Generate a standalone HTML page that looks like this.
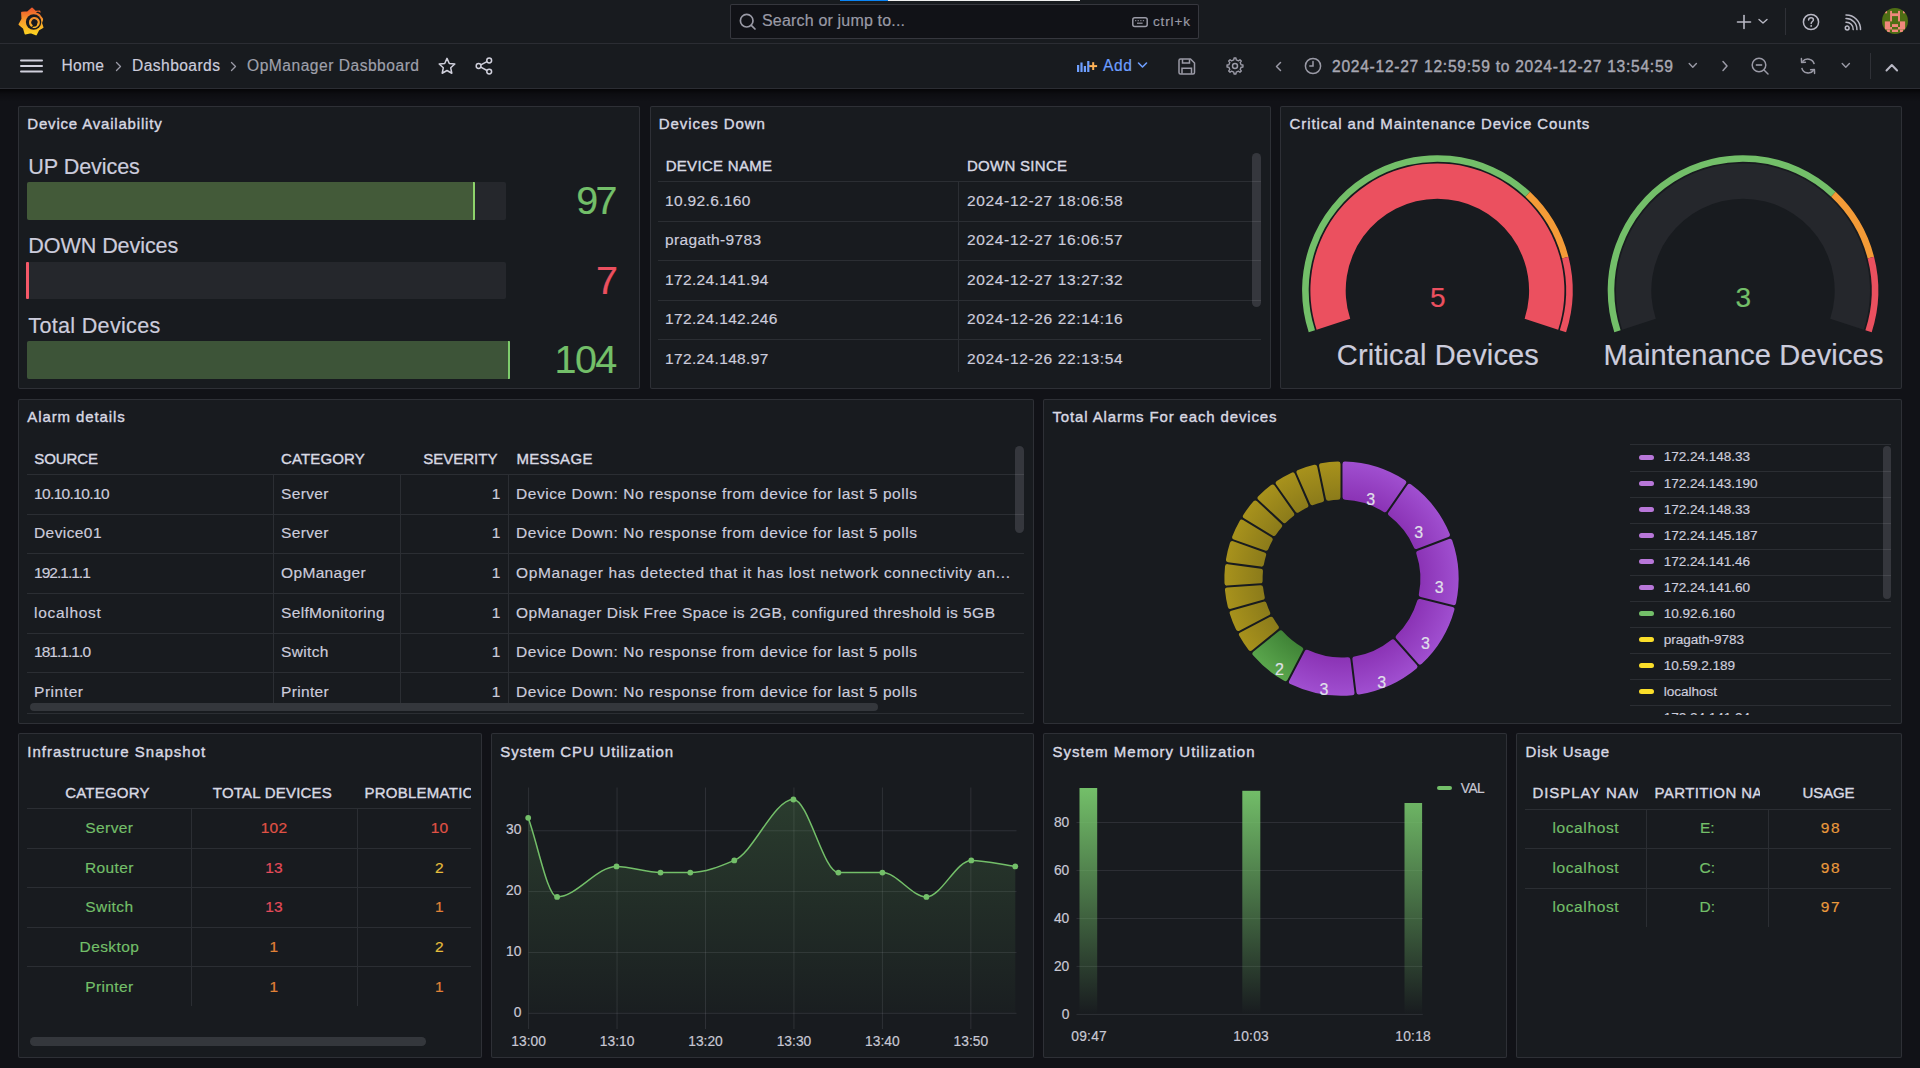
<!DOCTYPE html>
<html><head><meta charset="utf-8"><style>
html,body{margin:0;padding:0;}
body{width:1920px;height:1068px;overflow:hidden;position:relative;background:#111217;font-family:"Liberation Sans",sans-serif;}
.t{position:absolute;white-space:nowrap;-webkit-text-stroke:0.18px currentColor;}
svg{display:block;}
</style></head><body>
<div style="position:absolute;left:0.00px;top:0.00px;width:1920.00px;height:43.00px;background:#181b1f;"></div><div style="position:absolute;left:0.00px;top:43.00px;width:1920.00px;height:1.00px;background:#2b2d33;"></div><div style="position:absolute;left:0.00px;top:44.00px;width:1920.00px;height:44.00px;background:#181b1f;"></div><div style="position:absolute;left:0.00px;top:88.00px;width:1920.00px;height:1.00px;background:#2b2d33;"></div><div style="position:absolute;left:840.00px;top:0.00px;width:48.00px;height:1.20px;background:#0a84f5;"></div><div style="position:absolute;left:888.00px;top:0.00px;width:192.00px;height:1.20px;background:#f0f0f0;"></div><div style="position:absolute;left:730.00px;top:4.00px;width:469.00px;height:35.00px;background:#111217;box-sizing:border-box;border:1px solid rgba(204,204,220,0.2);border-radius:2px;"></div><svg style="position:absolute;left:739.00px;top:13.00px;overflow:visible;" width="18" height="18" viewBox="0 0 18 18"><circle cx="7.7" cy="7.7" r="6.3" fill="none" stroke="#9a9aa6" stroke-width="1.7"/><line x1="12.3" y1="12.3" x2="16" y2="16" stroke="#9a9aa6" stroke-width="1.7" stroke-linecap="round"/></svg><div class="t" style="left:762.00px;top:13.45px;font-size:16px;line-height:16px;color:#9a9aa6;letter-spacing:0.178px;">Search or jump to...</div><svg style="position:absolute;left:1132.00px;top:17.00px;overflow:visible;" width="16" height="10" viewBox="0 0 16 10"><rect x="0.8" y="0.8" width="14.4" height="8.6" rx="2" fill="none" stroke="#9a9aa6" stroke-width="1.5"/><rect x="3" y="3.2" width="1.3" height="1" fill="#9a9aa6"/><rect x="5.6" y="3.2" width="1.3" height="1" fill="#9a9aa6"/><rect x="8.2" y="3.2" width="1.3" height="1" fill="#9a9aa6"/><rect x="10.8" y="3.2" width="1.3" height="1" fill="#9a9aa6"/><rect x="5" y="5.6" width="5.6" height="1.2" fill="#9a9aa6"/></svg><div class="t" style="left:1153.00px;top:14.57px;font-size:13.5px;line-height:13.5px;color:#9a9aa6;letter-spacing:0.874px;">ctrl+k</div><svg style="position:absolute;left:1736.00px;top:14.00px;overflow:visible;" width="16" height="16" viewBox="0 0 16 16"><line x1="8" y1="1.5" x2="8" y2="14.5" stroke="#b8b8c4" stroke-width="1.6" stroke-linecap="round"/><line x1="1.5" y1="8" x2="14.5" y2="8" stroke="#b8b8c4" stroke-width="1.6" stroke-linecap="round"/></svg><svg style="position:absolute;left:1758.00px;top:18.00px;overflow:visible;" width="10" height="7" viewBox="0 0 10 7"><polyline points="1,1.5 5,5 9,1.5" fill="none" stroke="#b8b8c4" stroke-width="1.4" stroke-linecap="round" stroke-linejoin="round"/></svg><div style="position:absolute;left:1785.00px;top:8.00px;width:1.00px;height:27.00px;background:#2f3137;"></div><svg style="position:absolute;left:1802.00px;top:13.00px;overflow:visible;" width="18" height="18" viewBox="0 0 18 18"><circle cx="9" cy="9" r="7.6" fill="none" stroke="#b8b8c4" stroke-width="1.5"/><path d="M6.6,7.1 C6.6,5.5 7.7,4.8 9,4.8 C10.4,4.8 11.4,5.7 11.4,6.9 C11.4,8.5 9.2,8.6 9.2,10.4" fill="none" stroke="#b8b8c4" stroke-width="1.5" stroke-linecap="round"/><circle cx="9.2" cy="12.9" r="0.95" fill="#b8b8c4"/></svg><svg style="position:absolute;left:1844.00px;top:14.00px;overflow:visible;" width="18" height="18" viewBox="0 0 18 18"><circle cx="3.2" cy="14" r="1.9" fill="none" stroke="#b8b8c4" stroke-width="1.5"/><path d="M2,8.2 A7,7 0 0 1 9.2,15.6" fill="none" stroke="#b8b8c4" stroke-width="1.5" stroke-linecap="round"/><path d="M2,4.6 A10.6,10.6 0 0 1 12.9,15.6" fill="none" stroke="#b8b8c4" stroke-width="1.5" stroke-linecap="round"/><path d="M2,1 A14.3,14.3 0 0 1 16.5,15.6" fill="none" stroke="#b8b8c4" stroke-width="1.5" stroke-linecap="round"/></svg><svg style="position:absolute;left:1882.00px;top:8.00px;overflow:visible;" width="26" height="26" viewBox="0 0 26 26"><defs><clipPath id="avc"><circle cx="13" cy="13" r="13"/></clipPath></defs><g clip-path="url(#avc)"><rect width="26" height="26" fill="#4e6e14"/><rect x="2.85" y="2.90" width="2.23" height="2.40" fill="#f0887c"/><rect x="21.00" y="2.90" width="2.10" height="2.40" fill="#f0887c"/><rect x="8.10" y="2.90" width="1.90" height="10.50" fill="#f0887c"/><rect x="16.00" y="2.90" width="2.00" height="10.50" fill="#f0887c"/><rect x="10.00" y="5.30" width="6.00" height="2.80" fill="#f0887c"/><rect x="2.85" y="13.40" width="5.25" height="8.10" fill="#f0887c"/><rect x="8.10" y="19.00" width="1.90" height="2.50" fill="#f0887c"/><rect x="4.90" y="21.50" width="3.00" height="2.50" fill="#f0887c"/><rect x="18.00" y="13.40" width="5.10" height="8.10" fill="#f0887c"/><rect x="16.00" y="19.00" width="2.00" height="2.50" fill="#f0887c"/><rect x="18.00" y="21.50" width="3.00" height="2.50" fill="#f0887c"/><rect x="10.00" y="16.10" width="6.00" height="2.90" fill="#f0887c"/><rect x="10.00" y="21.50" width="6.00" height="2.50" fill="#f0887c"/></g></svg><svg style="position:absolute;left:14.00px;top:4.00px;overflow:visible;" width="34" height="36" viewBox="0 0 34 36"><defs><linearGradient id="glg" x1="0" y1="30" x2="0" y2="5" gradientUnits="userSpaceOnUse"><stop offset="0" stop-color="#fcd221"/><stop offset="0.55" stop-color="#f79a2c"/><stop offset="1" stop-color="#ee5b2c"/></linearGradient></defs>
<polygon points="18.00,4.30 21.35,7.52 25.60,7.20 25.91,12.04 28.60,14.80 27.24,19.00 28.70,23.40 24.41,25.80 22.00,30.60 16.92,28.46 11.30,29.60 9.74,24.08 5.30,20.40 8.28,15.05 7.90,8.60 13.74,8.12" fill="url(#glg)" stroke="url(#glg)" stroke-width="1.6" stroke-linejoin="round"/>
<circle cx="19.6" cy="18.0" r="7.7" fill="#181b1f"/>
<path d="M29.5,16.2 Q28.4,10.2 21.8,8.6 L24,7.6 Q30,9.5 30.5,16 Z" fill="#181b1f"/>
<path d="M17.6,21.6 A4.3,4.3 0 1 1 24.2,20.4" fill="none" stroke="url(#glg)" stroke-width="2.3" stroke-linecap="round"/>
<path d="M24.2,20.4 Q23,23.6 19.2,23.4" fill="none" stroke="url(#glg)" stroke-width="1.4" stroke-linecap="round"/></svg><svg style="position:absolute;left:20.00px;top:59.00px;overflow:visible;" width="23" height="14" viewBox="0 0 23 14"><line x1="1" y1="1.4" x2="22" y2="1.4" stroke="#d0d0dc" stroke-width="2" stroke-linecap="round"/><line x1="1" y1="7" x2="22" y2="7" stroke="#d0d0dc" stroke-width="2" stroke-linecap="round"/><line x1="1" y1="12.6" x2="22" y2="12.6" stroke="#d0d0dc" stroke-width="2" stroke-linecap="round"/></svg><div class="t" style="left:61.50px;top:57.99px;font-size:15.6px;line-height:15.6px;color:#ccccdc;letter-spacing:0.301px;">Home</div><svg style="position:absolute;left:115.00px;top:61.00px;overflow:visible;" width="8" height="11" viewBox="0 0 8 11"><polyline points="1.5,1.5 5.5,5.5 1.5,9.5" fill="none" stroke="#9a9aa6" stroke-width="1.3" stroke-linecap="round" stroke-linejoin="round"/></svg><div class="t" style="left:132.00px;top:57.99px;font-size:15.6px;line-height:15.6px;color:#ccccdc;letter-spacing:0.435px;">Dashboards</div><svg style="position:absolute;left:230.00px;top:61.00px;overflow:visible;" width="8" height="11" viewBox="0 0 8 11"><polyline points="1.5,1.5 5.5,5.5 1.5,9.5" fill="none" stroke="#9a9aa6" stroke-width="1.3" stroke-linecap="round" stroke-linejoin="round"/></svg><div class="t" style="left:247.00px;top:57.99px;font-size:15.6px;line-height:15.6px;color:#9fa0ab;letter-spacing:0.502px;">OpManager Dasbboard</div><svg style="position:absolute;left:438.00px;top:57.00px;overflow:visible;" width="18" height="18" viewBox="0 0 18 18"><polygon points="9.00,1.40 11.29,6.44 16.80,7.07 12.71,10.81 13.82,16.23 9.00,13.50 4.18,16.23 5.29,10.81 1.20,7.07 6.71,6.44" fill="none" stroke="#d0d0dc" stroke-width="1.5" stroke-linejoin="round"/></svg><svg style="position:absolute;left:475.00px;top:57.00px;overflow:visible;" width="18" height="18" viewBox="0 0 18 18"><circle cx="14.2" cy="3.5" r="2.4" fill="none" stroke="#d0d0dc" stroke-width="1.5"/><circle cx="3.6" cy="9" r="2.4" fill="none" stroke="#d0d0dc" stroke-width="1.5"/><circle cx="14.2" cy="14.6" r="2.4" fill="none" stroke="#d0d0dc" stroke-width="1.5"/><line x1="5.8" y1="7.9" x2="12" y2="4.6" stroke="#d0d0dc" stroke-width="1.5"/><line x1="5.8" y1="10.1" x2="12" y2="13.5" stroke="#d0d0dc" stroke-width="1.5"/></svg><svg style="position:absolute;left:1076.00px;top:59.00px;overflow:visible;" width="22" height="14" viewBox="0 0 22 14"><rect x="1" y="6" width="2.2" height="7" fill="#6e9fff"/><rect x="4.4" y="3.5" width="2.2" height="9.5" fill="#6e9fff"/><rect x="7.8" y="7" width="2.2" height="6" fill="#6e9fff"/><rect x="11.2" y="2" width="2.2" height="11" fill="#6e9fff"/><line x1="17.2" y1="3.2" x2="17.2" y2="11" stroke="#ffb357" stroke-width="2"/><line x1="13.3" y1="7.1" x2="21.1" y2="7.1" stroke="#ffb357" stroke-width="2"/></svg><div class="t" style="left:1103.00px;top:57.99px;font-size:15.6px;line-height:15.6px;color:#6e9fff;letter-spacing:0.627px;">Add</div><svg style="position:absolute;left:1137.00px;top:61.00px;overflow:visible;" width="11" height="9" viewBox="0 0 11 9"><polyline points="1.5,2 5.5,6 9.5,2" fill="none" stroke="#6e9fff" stroke-width="1.6" stroke-linecap="round" stroke-linejoin="round"/></svg><svg style="position:absolute;left:1178.00px;top:58.00px;overflow:visible;" width="18" height="17" viewBox="0 0 18 17"><path d="M2.5,1 H12.5 L16.5,5 V14.5 A1.5,1.5 0 0 1 15,16 H2.5 A1.5,1.5 0 0 1 1,14.5 V2.5 A1.5,1.5 0 0 1 2.5,1 Z" fill="none" stroke="#9a9aa6" stroke-width="1.5" stroke-linejoin="round"/><path d="M4.5,1.2 V5 H11.5 V1.2" fill="none" stroke="#9a9aa6" stroke-width="1.5"/><path d="M4,15.8 V10.2 H13.5 V15.8" fill="none" stroke="#9a9aa6" stroke-width="1.5"/></svg><svg style="position:absolute;left:1226.00px;top:57.00px;overflow:visible;" width="18" height="18" viewBox="0 0 18 18"><path d="M15.08,7.77 L16.94,8.04 L16.94,9.96 L15.08,10.23 L14.17,12.43 L15.29,13.94 L13.94,15.29 L12.43,14.17 L10.23,15.08 L9.96,16.94 L8.04,16.94 L7.77,15.08 L5.57,14.17 L4.06,15.29 L2.71,13.94 L3.83,12.43 L2.92,10.23 L1.06,9.96 L1.06,8.04 L2.92,7.77 L3.83,5.57 L2.71,4.06 L4.06,2.71 L5.57,3.83 L7.77,2.92 L8.04,1.06 L9.96,1.06 L10.23,2.92 L12.43,3.83 L13.94,2.71 L15.29,4.06 L14.17,5.57 Z" fill="none" stroke="#9a9aa6" stroke-width="1.4" stroke-linejoin="round"/><circle cx="9" cy="9" r="2.5" fill="none" stroke="#9a9aa6" stroke-width="1.5"/></svg><svg style="position:absolute;left:1274.00px;top:61.00px;overflow:visible;" width="9" height="11" viewBox="0 0 9 11"><polyline points="6.5,1.5 2.5,5.5 6.5,9.5" fill="none" stroke="#9a9aa6" stroke-width="1.5" stroke-linecap="round" stroke-linejoin="round"/></svg><svg style="position:absolute;left:1304.00px;top:57.00px;overflow:visible;" width="18" height="18" viewBox="0 0 18 18"><circle cx="9" cy="9" r="7.6" fill="none" stroke="#9a9aa6" stroke-width="1.5"/><polyline points="9,4.5 9,9 5.8,9" fill="none" stroke="#9a9aa6" stroke-width="1.5" stroke-linecap="round"/></svg><div class="t" style="left:1332.00px;top:58.79px;font-size:15.6px;line-height:15.6px;color:#a8a8b3;-webkit-text-stroke:0.38px currentColor;letter-spacing:0.725px;">2024-12-27 12:59:59 to 2024-12-27 13:54:59</div><svg style="position:absolute;left:1688.00px;top:62.00px;overflow:visible;" width="10" height="8" viewBox="0 0 10 8"><polyline points="1.2,1.5 4.8,5.2 8.4,1.5" fill="none" stroke="#9a9aa6" stroke-width="1.4" stroke-linecap="round" stroke-linejoin="round"/></svg><svg style="position:absolute;left:1721.00px;top:60.00px;overflow:visible;" width="9" height="12" viewBox="0 0 9 12"><polyline points="2,1.5 6,6 2,10.5" fill="none" stroke="#9a9aa6" stroke-width="1.5" stroke-linecap="round" stroke-linejoin="round"/></svg><svg style="position:absolute;left:1751.00px;top:57.00px;overflow:visible;" width="19" height="19" viewBox="0 0 19 19"><circle cx="8" cy="8" r="6.8" fill="none" stroke="#9a9aa6" stroke-width="1.5"/><line x1="13" y1="13" x2="17" y2="17" stroke="#9a9aa6" stroke-width="1.5" stroke-linecap="round"/><line x1="4.8" y1="8" x2="11.2" y2="8" stroke="#9a9aa6" stroke-width="1.6"/></svg><svg style="position:absolute;left:1799.00px;top:57.00px;overflow:visible;" width="18" height="18" viewBox="0 0 18 18"><path d="M15.2,7.2 A6.6,6.6 0 0 0 3.4,4.8" fill="none" stroke="#9a9aa6" stroke-width="1.5"/><polyline points="2.4,1.6 2.6,5.4 6.4,5.2" fill="none" stroke="#9a9aa6" stroke-width="1.5" stroke-linecap="round" stroke-linejoin="round"/><path d="M2.8,10.8 A6.6,6.6 0 0 0 14.6,13.2" fill="none" stroke="#9a9aa6" stroke-width="1.5"/><polyline points="15.6,16.4 15.4,12.6 11.6,12.8" fill="none" stroke="#9a9aa6" stroke-width="1.5" stroke-linecap="round" stroke-linejoin="round"/></svg><svg style="position:absolute;left:1841.00px;top:62.00px;overflow:visible;" width="10" height="8" viewBox="0 0 10 8"><polyline points="1.2,1.5 4.8,5.2 8.4,1.5" fill="none" stroke="#9a9aa6" stroke-width="1.4" stroke-linecap="round" stroke-linejoin="round"/></svg><div style="position:absolute;left:1869.50px;top:53.00px;width:1.00px;height:26.00px;background:#2f3137;"></div><svg style="position:absolute;left:1885.00px;top:63.00px;overflow:visible;" width="14" height="9" viewBox="0 0 14 9"><polyline points="1.5,7.5 6.8,2 12.1,7.5" fill="none" stroke="#b8b8c4" stroke-width="2" stroke-linecap="round" stroke-linejoin="round"/></svg><div style="position:absolute;left:0.00px;top:89.00px;width:1920.00px;height:13.00px;background:linear-gradient(rgba(0,0,0,0.7), rgba(0,0,0,0.25) 40%, rgba(0,0,0,0));"></div><div style="position:absolute;left:18.00px;top:106.30px;width:622.00px;height:282.70px;background:#181b1f;box-sizing:border-box;border:1px solid rgba(204,204,220,0.12);border-radius:2px;"></div><div class="t" style="left:27.30px;top:116.40px;font-size:15px;line-height:15px;color:#d8d9e3;-webkit-text-stroke:0.38px currentColor;letter-spacing:0.811px;">Device Availability</div><div style="position:absolute;left:649.50px;top:106.30px;width:621.50px;height:282.70px;background:#181b1f;box-sizing:border-box;border:1px solid rgba(204,204,220,0.12);border-radius:2px;"></div><div class="t" style="left:658.80px;top:116.40px;font-size:15px;line-height:15px;color:#d8d9e3;-webkit-text-stroke:0.38px currentColor;letter-spacing:0.921px;">Devices Down</div><div style="position:absolute;left:1280.30px;top:106.30px;width:622.00px;height:282.70px;background:#181b1f;box-sizing:border-box;border:1px solid rgba(204,204,220,0.12);border-radius:2px;"></div><div class="t" style="left:1289.60px;top:116.40px;font-size:15px;line-height:15px;color:#d8d9e3;-webkit-text-stroke:0.38px currentColor;letter-spacing:0.887px;">Critical and Maintenance Device Counts</div><div style="position:absolute;left:18.00px;top:399.00px;width:1016.00px;height:324.80px;background:#181b1f;box-sizing:border-box;border:1px solid rgba(204,204,220,0.12);border-radius:2px;"></div><div class="t" style="left:27.30px;top:409.10px;font-size:15px;line-height:15px;color:#d8d9e3;-webkit-text-stroke:0.38px currentColor;letter-spacing:0.892px;">Alarm details</div><div style="position:absolute;left:1043.20px;top:399.00px;width:858.80px;height:324.80px;background:#181b1f;box-sizing:border-box;border:1px solid rgba(204,204,220,0.12);border-radius:2px;"></div><div class="t" style="left:1052.50px;top:409.10px;font-size:15px;line-height:15px;color:#d8d9e3;-webkit-text-stroke:0.38px currentColor;letter-spacing:0.853px;">Total Alarms For each devices</div><div style="position:absolute;left:18.00px;top:733.40px;width:464.00px;height:324.60px;background:#181b1f;box-sizing:border-box;border:1px solid rgba(204,204,220,0.12);border-radius:2px;"></div><div class="t" style="left:27.30px;top:743.50px;font-size:15px;line-height:15px;color:#d8d9e3;-webkit-text-stroke:0.38px currentColor;letter-spacing:0.999px;">Infrastructure Snapshot</div><div style="position:absolute;left:491.00px;top:733.40px;width:543.00px;height:324.60px;background:#181b1f;box-sizing:border-box;border:1px solid rgba(204,204,220,0.12);border-radius:2px;"></div><div class="t" style="left:500.30px;top:743.50px;font-size:15px;line-height:15px;color:#d8d9e3;-webkit-text-stroke:0.38px currentColor;letter-spacing:0.841px;">System CPU Utilization</div><div style="position:absolute;left:1043.20px;top:733.40px;width:463.80px;height:324.60px;background:#181b1f;box-sizing:border-box;border:1px solid rgba(204,204,220,0.12);border-radius:2px;"></div><div class="t" style="left:1052.50px;top:743.50px;font-size:15px;line-height:15px;color:#d8d9e3;-webkit-text-stroke:0.38px currentColor;letter-spacing:1.019px;">System Memory Utilization</div><div style="position:absolute;left:1516.30px;top:733.40px;width:386.00px;height:324.60px;background:#181b1f;box-sizing:border-box;border:1px solid rgba(204,204,220,0.12);border-radius:2px;"></div><div class="t" style="left:1525.60px;top:743.50px;font-size:15px;line-height:15px;color:#d8d9e3;-webkit-text-stroke:0.38px currentColor;letter-spacing:0.756px;">Disk Usage</div><div class="t" style="left:28.30px;top:155.91px;font-size:21.6px;line-height:21.6px;color:#ccccdc;letter-spacing:-0.089px;">UP Devices</div><div style="position:absolute;left:27.00px;top:182.00px;width:479.00px;height:37.80px;background:rgba(204,204,220,0.075);border-radius:2px;"></div><div style="position:absolute;left:27.00px;top:182.00px;width:448.00px;height:37.80px;background:#435a39;border-radius:2px 0 0 2px;"></div><div style="position:absolute;left:472.80px;top:182.00px;width:2.20px;height:37.80px;background:#8ed36b;border-radius:0 1px 1px 0;"></div><div class="t" style="left:576.20px;top:181.06px;font-size:39.5px;line-height:39.5px;color:#73BF69;letter-spacing:-2.636px;">97</div><div class="t" style="left:28.30px;top:235.41px;font-size:21.6px;line-height:21.6px;color:#ccccdc;letter-spacing:-0.106px;">DOWN Devices</div><div style="position:absolute;left:27.00px;top:261.80px;width:479.00px;height:37.40px;background:rgba(204,204,220,0.075);border-radius:2px;"></div><div style="position:absolute;left:26.20px;top:261.80px;width:2.80px;height:37.40px;background:#f55868;border-radius:1px;"></div><div class="t" style="left:596.03px;top:260.56px;font-size:39.5px;line-height:39.5px;color:#EB505F;">7</div><div class="t" style="left:28.30px;top:314.91px;font-size:21.6px;line-height:21.6px;color:#ccccdc;letter-spacing:0.299px;">Total Devices</div><div style="position:absolute;left:27.00px;top:341.20px;width:483.00px;height:37.50px;background:rgba(204,204,220,0.075);border-radius:2px;"></div><div style="position:absolute;left:27.00px;top:341.20px;width:483.00px;height:37.50px;background:#3d5438;border-radius:2px 0 0 2px;"></div><div style="position:absolute;left:507.80px;top:341.20px;width:2.20px;height:37.50px;background:#7ecc6c;border-radius:0 1px 1px 0;"></div><div class="t" style="left:554.60px;top:339.76px;font-size:39.5px;line-height:39.5px;color:#73BF69;letter-spacing:-1.602px;">104</div><div class="t" style="left:665.70px;top:158.30px;font-size:15px;line-height:15px;color:#d8d9e3;-webkit-text-stroke:0.38px currentColor;letter-spacing:0.295px;">DEVICE NAME</div><div class="t" style="left:967.00px;top:158.30px;font-size:15px;line-height:15px;color:#d8d9e3;-webkit-text-stroke:0.38px currentColor;letter-spacing:0.278px;">DOWN SINCE</div><div style="position:absolute;left:658.00px;top:181.00px;width:603.00px;height:1.00px;background:#2b2e33;"></div><div class="t" style="left:665.00px;top:192.88px;font-size:15.5px;line-height:15.5px;color:#ccccdc;letter-spacing:0.350px;">10.92.6.160</div><div class="t" style="left:967.00px;top:192.88px;font-size:15.5px;line-height:15.5px;color:#ccccdc;letter-spacing:0.650px;">2024-12-27 18:06:58</div><div style="position:absolute;left:658.00px;top:220.50px;width:603.00px;height:1.00px;background:#2b2e33;"></div><div class="t" style="left:665.00px;top:232.38px;font-size:15.5px;line-height:15.5px;color:#ccccdc;letter-spacing:0.350px;">pragath-9783</div><div class="t" style="left:967.00px;top:232.38px;font-size:15.5px;line-height:15.5px;color:#ccccdc;letter-spacing:0.650px;">2024-12-27 16:06:57</div><div style="position:absolute;left:658.00px;top:260.00px;width:603.00px;height:1.00px;background:#2b2e33;"></div><div class="t" style="left:665.00px;top:271.88px;font-size:15.5px;line-height:15.5px;color:#ccccdc;letter-spacing:0.350px;">172.24.141.94</div><div class="t" style="left:967.00px;top:271.88px;font-size:15.5px;line-height:15.5px;color:#ccccdc;letter-spacing:0.650px;">2024-12-27 13:27:32</div><div style="position:absolute;left:658.00px;top:299.50px;width:603.00px;height:1.00px;background:#2b2e33;"></div><div class="t" style="left:665.00px;top:311.38px;font-size:15.5px;line-height:15.5px;color:#ccccdc;letter-spacing:0.350px;">172.24.142.246</div><div class="t" style="left:967.00px;top:311.38px;font-size:15.5px;line-height:15.5px;color:#ccccdc;letter-spacing:0.650px;">2024-12-26 22:14:16</div><div style="position:absolute;left:658.00px;top:339.00px;width:603.00px;height:1.00px;background:#2b2e33;"></div><div class="t" style="left:665.00px;top:350.88px;font-size:15.5px;line-height:15.5px;color:#ccccdc;letter-spacing:0.350px;">172.24.148.97</div><div class="t" style="left:967.00px;top:350.88px;font-size:15.5px;line-height:15.5px;color:#ccccdc;letter-spacing:0.650px;">2024-12-26 22:13:54</div><div style="position:absolute;left:958.00px;top:182.00px;width:1.00px;height:190.00px;background:#2b2e33;"></div><div style="position:absolute;left:1252.00px;top:153.00px;width:9.00px;height:154.00px;background:rgba(204,204,220,0.16);border-radius:4.5px;"></div><svg style="position:absolute;left:0;top:0;" width="1920" height="1068"><path d="M1316.62,329.75 A127,127 0 1 1 1558.18,329.75 L1524.61,318.84 A91.7,91.7 0 1 0 1350.19,318.84 Z" fill="#EB505F"/><path d="M1308.72,332.31 A135.3,135.3 0 0 1 1530.02,191.87 L1525.50,196.68 A128.7,128.7 0 0 0 1315.00,330.27 Z" fill="#73BF69"/><path d="M1530.02,191.87 A135.3,135.3 0 0 1 1568.45,256.85 L1562.06,258.49 A128.7,128.7 0 0 0 1525.50,196.68 Z" fill="#F49B37"/><path d="M1568.45,256.85 A135.3,135.3 0 0 1 1566.08,332.31 L1559.80,330.27 A128.7,128.7 0 0 0 1562.06,258.49 Z" fill="#EB505F"/></svg><div class="t" style="left:1429.91px;top:284.04px;font-size:28px;line-height:28px;color:#EB505F;">5</div><div class="t" style="left:1336.80px;top:340.70px;font-size:29px;line-height:29px;color:#ccccdc;letter-spacing:0.146px;">Critical Devices</div><svg style="position:absolute;left:0;top:0;" width="1920" height="1068"><path d="M1622.22,329.75 A127,127 0 1 1 1863.78,329.75 L1830.21,318.84 A91.7,91.7 0 1 0 1655.79,318.84 Z" fill="#25272c"/><path d="M1614.32,332.31 A135.3,135.3 0 0 1 1835.62,191.87 L1831.10,196.68 A128.7,128.7 0 0 0 1620.60,330.27 Z" fill="#73BF69"/><path d="M1835.62,191.87 A135.3,135.3 0 0 1 1874.05,256.85 L1867.66,258.49 A128.7,128.7 0 0 0 1831.10,196.68 Z" fill="#F49B37"/><path d="M1874.05,256.85 A135.3,135.3 0 0 1 1871.68,332.31 L1865.40,330.27 A128.7,128.7 0 0 0 1867.66,258.49 Z" fill="#EB505F"/></svg><div class="t" style="left:1735.51px;top:284.04px;font-size:28px;line-height:28px;color:#73BF69;">3</div><div class="t" style="left:1603.40px;top:340.70px;font-size:29px;line-height:29px;color:#ccccdc;letter-spacing:0.152px;">Maintenance Devices</div><div class="t" style="left:34.30px;top:451.30px;font-size:15px;line-height:15px;color:#d8d9e3;-webkit-text-stroke:0.38px currentColor;letter-spacing:-0.095px;">SOURCE</div><div class="t" style="left:281.00px;top:451.30px;font-size:15px;line-height:15px;color:#d8d9e3;-webkit-text-stroke:0.38px currentColor;letter-spacing:0.130px;">CATEGORY</div><div class="t" style="left:423.30px;top:451.30px;font-size:15px;line-height:15px;color:#d8d9e3;-webkit-text-stroke:0.38px currentColor;letter-spacing:-0.012px;">SEVERITY</div><div class="t" style="left:516.40px;top:451.30px;font-size:15px;line-height:15px;color:#d8d9e3;-webkit-text-stroke:0.38px currentColor;letter-spacing:0.302px;">MESSAGE</div><div style="position:absolute;left:27.00px;top:474.00px;width:997.00px;height:1.00px;background:#2b2e33;"></div><div class="t" style="left:34.00px;top:485.78px;font-size:15.5px;line-height:15.5px;color:#ccccdc;letter-spacing:-0.638px;">10.10.10.10</div><div class="t" style="left:281.00px;top:485.78px;font-size:15.5px;line-height:15.5px;color:#ccccdc;letter-spacing:0.350px;">Server</div><div class="t" style="left:491.68px;top:485.78px;font-size:15.5px;line-height:15.5px;color:#ccccdc;">1</div><div class="t" style="left:516.00px;top:485.78px;font-size:15.5px;line-height:15.5px;color:#ccccdc;letter-spacing:0.555px;">Device Down: No response from device for last 5 polls</div><div style="position:absolute;left:27.00px;top:513.66px;width:997.00px;height:1.00px;background:#2b2e33;"></div><div class="t" style="left:34.00px;top:525.44px;font-size:15.5px;line-height:15.5px;color:#ccccdc;letter-spacing:0.412px;">Device01</div><div class="t" style="left:281.00px;top:525.44px;font-size:15.5px;line-height:15.5px;color:#ccccdc;letter-spacing:0.350px;">Server</div><div class="t" style="left:491.68px;top:525.44px;font-size:15.5px;line-height:15.5px;color:#ccccdc;">1</div><div class="t" style="left:516.00px;top:525.44px;font-size:15.5px;line-height:15.5px;color:#ccccdc;letter-spacing:0.555px;">Device Down: No response from device for last 5 polls</div><div style="position:absolute;left:27.00px;top:553.32px;width:997.00px;height:1.00px;background:#2b2e33;"></div><div class="t" style="left:34.00px;top:565.10px;font-size:15.5px;line-height:15.5px;color:#ccccdc;letter-spacing:-0.980px;">192.1.1.1</div><div class="t" style="left:281.00px;top:565.10px;font-size:15.5px;line-height:15.5px;color:#ccccdc;letter-spacing:0.350px;">OpManager</div><div class="t" style="left:491.68px;top:565.10px;font-size:15.5px;line-height:15.5px;color:#ccccdc;">1</div><div class="t" style="left:516.00px;top:565.10px;font-size:15.5px;line-height:15.5px;color:#ccccdc;letter-spacing:0.628px;">OpManager has detected that it has lost network connectivity an...</div><div style="position:absolute;left:27.00px;top:592.98px;width:997.00px;height:1.00px;background:#2b2e33;"></div><div class="t" style="left:34.00px;top:604.76px;font-size:15.5px;line-height:15.5px;color:#ccccdc;letter-spacing:0.703px;">localhost</div><div class="t" style="left:281.00px;top:604.76px;font-size:15.5px;line-height:15.5px;color:#ccccdc;letter-spacing:0.350px;">SelfMonitoring</div><div class="t" style="left:491.68px;top:604.76px;font-size:15.5px;line-height:15.5px;color:#ccccdc;">1</div><div class="t" style="left:516.00px;top:604.76px;font-size:15.5px;line-height:15.5px;color:#ccccdc;letter-spacing:0.459px;">OpManager Disk Free Space is 2GB, configured threshold is 5GB</div><div style="position:absolute;left:27.00px;top:632.64px;width:997.00px;height:1.00px;background:#2b2e33;"></div><div class="t" style="left:34.00px;top:644.42px;font-size:15.5px;line-height:15.5px;color:#ccccdc;letter-spacing:-0.955px;">181.1.1.0</div><div class="t" style="left:281.00px;top:644.42px;font-size:15.5px;line-height:15.5px;color:#ccccdc;letter-spacing:0.350px;">Switch</div><div class="t" style="left:491.68px;top:644.42px;font-size:15.5px;line-height:15.5px;color:#ccccdc;">1</div><div class="t" style="left:516.00px;top:644.42px;font-size:15.5px;line-height:15.5px;color:#ccccdc;letter-spacing:0.555px;">Device Down: No response from device for last 5 polls</div><div style="position:absolute;left:27.00px;top:672.30px;width:997.00px;height:1.00px;background:#2b2e33;"></div><div class="t" style="left:34.00px;top:684.08px;font-size:15.5px;line-height:15.5px;color:#ccccdc;letter-spacing:0.558px;">Printer</div><div class="t" style="left:281.00px;top:684.08px;font-size:15.5px;line-height:15.5px;color:#ccccdc;letter-spacing:0.350px;">Printer</div><div class="t" style="left:491.68px;top:684.08px;font-size:15.5px;line-height:15.5px;color:#ccccdc;">1</div><div class="t" style="left:516.00px;top:684.08px;font-size:15.5px;line-height:15.5px;color:#ccccdc;letter-spacing:0.555px;">Device Down: No response from device for last 5 polls</div><div style="position:absolute;left:27.00px;top:713.00px;width:997.00px;height:1.00px;background:#2b2e33;"></div><div style="position:absolute;left:272.80px;top:475.00px;width:1.00px;height:228.00px;background:#2b2e33;"></div><div style="position:absolute;left:400.40px;top:475.00px;width:1.00px;height:228.00px;background:#2b2e33;"></div><div style="position:absolute;left:508.00px;top:475.00px;width:1.00px;height:228.00px;background:#2b2e33;"></div><div style="position:absolute;left:1014.75px;top:445.75px;width:9.15px;height:87.00px;background:rgba(204,204,220,0.16);border-radius:4.5px;"></div><div style="position:absolute;left:29.90px;top:702.90px;width:848.00px;height:8.60px;background:#34373c;border-radius:4.3px;"></div><svg style="position:absolute;left:0;top:0;" width="1920" height="1068"><defs><radialGradient id="dgB877D9" cx="1341.5" cy="578.65" r="117.1" gradientUnits="userSpaceOnUse"><stop offset="0.66" stop-color="#8a32b4"/><stop offset="1" stop-color="#a04fd0"/></radialGradient><radialGradient id="dg73BF69" cx="1341.5" cy="578.65" r="117.1" gradientUnits="userSpaceOnUse"><stop offset="0.66" stop-color="#3f8236"/><stop offset="1" stop-color="#5aa64c"/></radialGradient><radialGradient id="dgFADE2A" cx="1341.5" cy="578.65" r="117.1" gradientUnits="userSpaceOnUse"><stop offset="0.66" stop-color="#8a7a1a"/><stop offset="1" stop-color="#a8921c"/></radialGradient></defs><path d="M1342.48,464.05 Q1342.50,461.55 1345.00,461.60 A117.1,117.1 0 0 1 1405.09,480.32 Q1407.17,481.70 1405.77,483.77 L1386.87,511.07 Q1385.48,513.14 1383.38,511.78 A78.9,78.9 0 0 0 1345.00,499.83 Q1342.50,499.76 1342.53,497.26 Z" fill="url(#dgB877D9)"/><path d="M1407.38,484.88 Q1408.82,482.83 1410.85,484.29 A117.1,117.1 0 0 1 1449.68,533.82 Q1450.61,536.14 1448.28,537.05 L1417.22,548.79 Q1414.90,549.70 1413.94,547.39 A78.9,78.9 0 0 0 1389.14,515.76 Q1387.12,514.28 1388.57,512.24 Z" fill="url(#dgB877D9)"/><path d="M1448.98,538.88 Q1451.32,538.01 1452.16,540.36 A117.1,117.1 0 0 1 1456.00,603.18 Q1455.45,605.62 1453.02,605.04 L1420.79,597.07 Q1418.35,596.50 1418.88,594.06 A78.9,78.9 0 0 0 1416.43,553.93 Q1415.61,551.57 1417.96,550.71 Z" fill="url(#dgB877D9)"/><path d="M1452.55,606.94 Q1454.98,607.56 1454.33,609.98 A117.1,117.1 0 0 1 1421.82,663.86 Q1419.98,665.56 1418.31,663.70 L1396.31,638.84 Q1394.62,636.99 1396.44,635.28 A78.9,78.9 0 0 0 1417.21,600.85 Q1417.88,598.45 1420.30,599.07 Z" fill="url(#dgB877D9)"/><path d="M1416.84,665.00 Q1418.49,666.88 1416.59,668.51 A117.1,117.1 0 0 1 1359.22,694.40 Q1356.75,694.75 1356.42,692.27 L1352.43,659.31 Q1352.10,656.83 1354.57,656.46 A78.9,78.9 0 0 0 1391.21,639.92 Q1393.13,638.32 1394.76,640.21 Z" fill="url(#dgB877D9)"/><path d="M1354.48,692.51 Q1354.76,695.00 1352.28,695.25 A117.1,117.1 0 0 1 1290.36,683.99 Q1288.12,682.88 1289.26,680.65 L1304.70,651.25 Q1305.83,649.02 1308.07,650.12 A78.9,78.9 0 0 0 1347.62,657.31 Q1350.11,657.08 1350.39,659.56 Z" fill="url(#dgB877D9)"/><path d="M1287.53,679.74 Q1286.35,681.95 1284.16,680.75 A117.1,117.1 0 0 1 1253.03,655.37 Q1251.41,653.46 1253.34,651.86 L1279.09,630.91 Q1281.01,629.31 1282.64,631.20 A78.9,78.9 0 0 0 1301.87,646.88 Q1304.05,648.10 1302.87,650.30 Z" fill="url(#dg73BF69)"/><path d="M1252.10,650.35 Q1250.15,651.91 1248.61,649.94 A117.1,117.1 0 0 1 1239.26,635.75 Q1238.07,633.55 1240.28,632.38 L1269.76,617.11 Q1271.96,615.93 1273.18,618.12 A78.9,78.9 0 0 0 1278.22,625.78 Q1279.75,627.76 1277.79,629.31 Z" fill="url(#dgFADE2A)"/><path d="M1239.37,630.64 Q1237.15,631.78 1236.04,629.54 A117.1,117.1 0 0 1 1229.78,613.74 Q1229.06,611.35 1231.46,610.65 L1263.43,601.70 Q1265.83,600.99 1266.58,603.38 A78.9,78.9 0 0 0 1269.95,611.91 Q1271.04,614.16 1268.81,615.28 Z" fill="url(#dgFADE2A)"/><path d="M1230.93,608.76 Q1228.52,609.42 1227.88,607.00 A117.1,117.1 0 0 1 1224.98,590.26 Q1224.76,587.77 1227.25,587.57 L1260.37,585.32 Q1262.87,585.12 1263.11,587.61 A78.9,78.9 0 0 0 1264.68,596.64 Q1265.29,599.07 1262.87,599.71 Z" fill="url(#dgFADE2A)"/><path d="M1227.11,585.62 Q1224.62,585.77 1224.49,583.28 A117.1,117.1 0 0 1 1225.05,566.29 Q1225.34,563.81 1227.82,564.13 L1260.71,568.67 Q1263.20,568.97 1262.93,571.46 A78.9,78.9 0 0 0 1262.62,580.63 Q1262.73,583.12 1260.23,583.27 Z" fill="url(#dgFADE2A)"/><path d="M1228.09,562.19 Q1225.61,561.83 1226.00,559.36 A117.1,117.1 0 0 1 1230.01,542.84 Q1230.80,540.47 1233.16,541.29 L1264.44,552.43 Q1266.81,553.23 1266.04,555.61 A78.9,78.9 0 0 0 1263.87,564.53 Q1263.47,566.99 1260.99,566.62 Z" fill="url(#dgFADE2A)"/><path d="M1233.82,539.44 Q1231.47,538.59 1232.35,536.25 A117.1,117.1 0 0 1 1239.63,520.89 Q1240.89,518.73 1243.04,520.01 L1271.39,537.29 Q1273.54,538.56 1272.31,540.73 A78.9,78.9 0 0 0 1268.38,549.02 Q1267.47,551.35 1265.13,550.48 Z" fill="url(#dgFADE2A)"/><path d="M1244.05,518.34 Q1241.93,517.02 1243.27,514.91 A117.1,117.1 0 0 1 1253.53,501.37 Q1255.20,499.50 1257.04,501.19 L1281.28,523.88 Q1283.13,525.56 1281.48,527.44 A78.9,78.9 0 0 0 1275.94,534.75 Q1274.58,536.85 1272.46,535.53 Z" fill="url(#dgFADE2A)"/><path d="M1258.37,499.76 Q1256.56,498.04 1258.30,496.25 A117.1,117.1 0 0 1 1271.10,485.07 Q1273.12,483.59 1274.58,485.62 L1293.69,512.77 Q1295.16,514.79 1293.16,516.29 A78.9,78.9 0 0 0 1286.25,522.32 Q1284.49,524.10 1282.69,522.37 Z" fill="url(#dgFADE2A)"/><path d="M1276.18,484.49 Q1274.75,482.44 1276.82,481.03 A117.1,117.1 0 0 1 1291.63,472.70 Q1293.90,471.66 1294.92,473.94 L1308.11,504.42 Q1309.13,506.70 1306.87,507.76 A78.9,78.9 0 0 0 1298.88,512.25 Q1296.79,513.64 1295.38,511.58 Z" fill="url(#dgFADE2A)"/><path d="M1296.71,473.16 Q1295.74,470.86 1298.05,469.91 A117.1,117.1 0 0 1 1314.24,464.77 Q1316.68,464.21 1317.21,466.65 L1323.92,499.17 Q1324.46,501.61 1322.03,502.19 A78.9,78.9 0 0 0 1313.29,504.97 Q1310.97,505.90 1310.00,503.59 Z" fill="url(#dgFADE2A)"/><path d="M1319.13,466.26 Q1318.64,463.80 1321.10,463.34 A117.1,117.1 0 0 1 1338.00,461.60 Q1340.50,461.55 1340.52,464.05 L1340.47,497.26 Q1340.50,499.76 1338.00,499.83 A78.9,78.9 0 0 0 1328.88,500.77 Q1326.42,501.21 1325.94,498.75 Z" fill="url(#dgFADE2A)"/></svg><div class="t" style="left:1366.19px;top:492.24px;font-size:16px;line-height:16px;color:#e0e0ea;">3</div><div class="t" style="left:1414.17px;top:525.34px;font-size:16px;line-height:16px;color:#e0e0ea;">3</div><div class="t" style="left:1434.87px;top:579.83px;font-size:16px;line-height:16px;color:#e0e0ea;">3</div><div class="t" style="left:1420.96px;top:636.43px;font-size:16px;line-height:16px;color:#e0e0ea;">3</div><div class="t" style="left:1377.37px;top:675.12px;font-size:16px;line-height:16px;color:#e0e0ea;">3</div><div class="t" style="left:1319.52px;top:682.22px;font-size:16px;line-height:16px;color:#e0e0ea;">3</div><div class="t" style="left:1275.12px;top:661.75px;font-size:16px;line-height:16px;color:#e0e0ea;">2</div><div style="position:absolute;left:1620px;top:440px;width:280px;height:275px;overflow:hidden;"><div style="position:absolute;left:10.30px;top:4.40px;width:260.40px;height:1.00px;background:#2b2e33;"></div><div style="position:absolute;left:19.00px;top:14.50px;width:15.00px;height:5.00px;background:#B877D9;border-radius:2.5px;"></div><div class="t" style="left:43.80px;top:10.48px;font-size:13.6px;line-height:13.6px;color:#ccccdc;letter-spacing:-0.050px;">172.24.148.33</div><div style="position:absolute;left:10.30px;top:30.50px;width:260.40px;height:1.00px;background:#2b2e33;"></div><div style="position:absolute;left:19.00px;top:40.60px;width:15.00px;height:5.00px;background:#B877D9;border-radius:2.5px;"></div><div class="t" style="left:43.80px;top:36.58px;font-size:13.6px;line-height:13.6px;color:#ccccdc;letter-spacing:-0.050px;">172.24.143.190</div><div style="position:absolute;left:10.30px;top:56.60px;width:260.40px;height:1.00px;background:#2b2e33;"></div><div style="position:absolute;left:19.00px;top:66.70px;width:15.00px;height:5.00px;background:#B877D9;border-radius:2.5px;"></div><div class="t" style="left:43.80px;top:62.68px;font-size:13.6px;line-height:13.6px;color:#ccccdc;letter-spacing:-0.050px;">172.24.148.33</div><div style="position:absolute;left:10.30px;top:82.70px;width:260.40px;height:1.00px;background:#2b2e33;"></div><div style="position:absolute;left:19.00px;top:92.80px;width:15.00px;height:5.00px;background:#B877D9;border-radius:2.5px;"></div><div class="t" style="left:43.80px;top:88.78px;font-size:13.6px;line-height:13.6px;color:#ccccdc;letter-spacing:-0.050px;">172.24.145.187</div><div style="position:absolute;left:10.30px;top:108.80px;width:260.40px;height:1.00px;background:#2b2e33;"></div><div style="position:absolute;left:19.00px;top:118.90px;width:15.00px;height:5.00px;background:#B877D9;border-radius:2.5px;"></div><div class="t" style="left:43.80px;top:114.88px;font-size:13.6px;line-height:13.6px;color:#ccccdc;letter-spacing:-0.050px;">172.24.141.46</div><div style="position:absolute;left:10.30px;top:134.90px;width:260.40px;height:1.00px;background:#2b2e33;"></div><div style="position:absolute;left:19.00px;top:145.00px;width:15.00px;height:5.00px;background:#B877D9;border-radius:2.5px;"></div><div class="t" style="left:43.80px;top:140.98px;font-size:13.6px;line-height:13.6px;color:#ccccdc;letter-spacing:-0.050px;">172.24.141.60</div><div style="position:absolute;left:10.30px;top:161.00px;width:260.40px;height:1.00px;background:#2b2e33;"></div><div style="position:absolute;left:19.00px;top:171.10px;width:15.00px;height:5.00px;background:#73BF69;border-radius:2.5px;"></div><div class="t" style="left:43.80px;top:167.08px;font-size:13.6px;line-height:13.6px;color:#ccccdc;letter-spacing:-0.050px;">10.92.6.160</div><div style="position:absolute;left:10.30px;top:187.10px;width:260.40px;height:1.00px;background:#2b2e33;"></div><div style="position:absolute;left:19.00px;top:197.20px;width:15.00px;height:5.00px;background:#FADE2A;border-radius:2.5px;"></div><div class="t" style="left:43.80px;top:193.18px;font-size:13.6px;line-height:13.6px;color:#ccccdc;letter-spacing:-0.050px;">pragath-9783</div><div style="position:absolute;left:10.30px;top:213.20px;width:260.40px;height:1.00px;background:#2b2e33;"></div><div style="position:absolute;left:19.00px;top:223.30px;width:15.00px;height:5.00px;background:#FADE2A;border-radius:2.5px;"></div><div class="t" style="left:43.80px;top:219.28px;font-size:13.6px;line-height:13.6px;color:#ccccdc;letter-spacing:-0.050px;">10.59.2.189</div><div style="position:absolute;left:10.30px;top:239.30px;width:260.40px;height:1.00px;background:#2b2e33;"></div><div style="position:absolute;left:19.00px;top:249.40px;width:15.00px;height:5.00px;background:#FADE2A;border-radius:2.5px;"></div><div class="t" style="left:43.80px;top:245.38px;font-size:13.6px;line-height:13.6px;color:#ccccdc;letter-spacing:-0.050px;">localhost</div><div style="position:absolute;left:10.30px;top:265.40px;width:260.40px;height:1.00px;background:#2b2e33;"></div><div style="position:absolute;left:19.00px;top:275.50px;width:15.00px;height:5.00px;background:#B877D9;border-radius:2.5px;"></div><div class="t" style="left:43.80px;top:271.48px;font-size:13.6px;line-height:13.6px;color:#ccccdc;letter-spacing:-0.050px;">172.24.141.94</div></div><div style="position:absolute;left:1883.00px;top:446.00px;width:8.00px;height:152.70px;background:rgba(204,204,220,0.16);border-radius:4px;"></div><div class="t" style="left:65.20px;top:784.60px;font-size:15px;line-height:15px;color:#d8d9e3;-webkit-text-stroke:0.38px currentColor;letter-spacing:0.215px;">CATEGORY</div><div class="t" style="left:212.85px;top:784.60px;font-size:15px;line-height:15px;color:#d8d9e3;-webkit-text-stroke:0.38px currentColor;letter-spacing:0.210px;">TOTAL DEVICES</div><div style="position:absolute;left:27px;top:733px;width:444px;height:300px;overflow:hidden;"><div class="t" style="left:337.40px;top:51.60px;font-size:15px;line-height:15px;color:#d8d9e3;-webkit-text-stroke:0.38px currentColor;letter-spacing:0.259px;">PROBLEMATIC</div></div><div style="position:absolute;left:27.00px;top:808.00px;width:444.00px;height:1.00px;background:#2b2e33;"></div><div class="t" style="left:85.37px;top:820.18px;font-size:15.5px;line-height:15.5px;color:#73BF69;letter-spacing:0.400px;">Server</div><div class="t" style="left:260.77px;top:820.18px;font-size:15.5px;line-height:15.5px;color:#E05246;letter-spacing:0.200px;">102</div><div class="t" style="left:430.68px;top:820.18px;font-size:15.5px;line-height:15.5px;color:#E05246;letter-spacing:0.200px;">10</div><div style="position:absolute;left:27.00px;top:847.60px;width:444.00px;height:1.00px;background:#2b2e33;"></div><div class="t" style="left:84.94px;top:859.78px;font-size:15.5px;line-height:15.5px;color:#73BF69;letter-spacing:0.400px;">Router</div><div class="t" style="left:265.18px;top:859.78px;font-size:15.5px;line-height:15.5px;color:#E44B5A;letter-spacing:0.200px;">13</div><div class="t" style="left:435.09px;top:859.78px;font-size:15.5px;line-height:15.5px;color:#E6BE3C;letter-spacing:0.200px;">2</div><div style="position:absolute;left:27.00px;top:887.20px;width:444.00px;height:1.00px;background:#2b2e33;"></div><div class="t" style="left:85.37px;top:899.38px;font-size:15.5px;line-height:15.5px;color:#73BF69;letter-spacing:0.400px;">Switch</div><div class="t" style="left:265.18px;top:899.38px;font-size:15.5px;line-height:15.5px;color:#E44B5A;letter-spacing:0.200px;">13</div><div class="t" style="left:435.09px;top:899.38px;font-size:15.5px;line-height:15.5px;color:#E18237;letter-spacing:0.200px;">1</div><div style="position:absolute;left:27.00px;top:926.80px;width:444.00px;height:1.00px;background:#2b2e33;"></div><div class="t" style="left:79.57px;top:938.98px;font-size:15.5px;line-height:15.5px;color:#73BF69;letter-spacing:0.400px;">Desktop</div><div class="t" style="left:269.59px;top:938.98px;font-size:15.5px;line-height:15.5px;color:#E18237;letter-spacing:0.200px;">1</div><div class="t" style="left:435.09px;top:938.98px;font-size:15.5px;line-height:15.5px;color:#E6BE3C;letter-spacing:0.200px;">2</div><div style="position:absolute;left:27.00px;top:966.40px;width:444.00px;height:1.00px;background:#2b2e33;"></div><div class="t" style="left:85.17px;top:978.58px;font-size:15.5px;line-height:15.5px;color:#73BF69;letter-spacing:0.400px;">Printer</div><div class="t" style="left:269.59px;top:978.58px;font-size:15.5px;line-height:15.5px;color:#E18237;letter-spacing:0.200px;">1</div><div class="t" style="left:435.09px;top:978.58px;font-size:15.5px;line-height:15.5px;color:#E18237;letter-spacing:0.200px;">1</div><div style="position:absolute;left:191.30px;top:809.00px;width:1.00px;height:197.00px;background:#2b2e33;"></div><div style="position:absolute;left:356.50px;top:809.00px;width:1.00px;height:197.00px;background:#2b2e33;"></div><div style="position:absolute;left:29.80px;top:1037.25px;width:396.20px;height:8.65px;background:#34373c;border-radius:4.3px;"></div><div style="position:absolute;left:1525px;top:733px;width:366px;height:300px;overflow:hidden;"><div class="t" style="left:7.50px;top:51.60px;font-size:15px;line-height:15px;color:#d8d9e3;-webkit-text-stroke:0.38px currentColor;letter-spacing:0.932px;width:105.50px;overflow:hidden;">DISPLAY NAME</div><div class="t" style="left:129.60px;top:51.60px;font-size:15px;line-height:15px;color:#d8d9e3;-webkit-text-stroke:0.38px currentColor;letter-spacing:0.375px;width:105.40px;overflow:hidden;">PARTITION NAME</div></div><div class="t" style="left:1802.60px;top:784.60px;font-size:15px;line-height:15px;color:#d8d9e3;-webkit-text-stroke:0.38px currentColor;letter-spacing:-0.129px;">USAGE</div><div style="position:absolute;left:1525.30px;top:808.50px;width:365.70px;height:1.00px;background:#2b2e33;"></div><div class="t" style="left:1552.40px;top:820.18px;font-size:15.5px;line-height:15.5px;color:#73BF69;letter-spacing:0.628px;">localhost</div><div class="t" style="left:1699.98px;top:820.18px;font-size:15.5px;line-height:15.5px;color:#73BF69;">E:</div><div class="t" style="left:1820.85px;top:820.18px;font-size:15.5px;line-height:15.5px;color:#EB9A3C;letter-spacing:1.459px;">98</div><div style="position:absolute;left:1525.30px;top:848.10px;width:365.70px;height:1.00px;background:#2b2e33;"></div><div class="t" style="left:1552.40px;top:859.78px;font-size:15.5px;line-height:15.5px;color:#73BF69;letter-spacing:0.628px;">localhost</div><div class="t" style="left:1699.55px;top:859.78px;font-size:15.5px;line-height:15.5px;color:#73BF69;">C:</div><div class="t" style="left:1820.85px;top:859.78px;font-size:15.5px;line-height:15.5px;color:#EB9A3C;letter-spacing:1.459px;">98</div><div style="position:absolute;left:1525.30px;top:887.70px;width:365.70px;height:1.00px;background:#2b2e33;"></div><div class="t" style="left:1552.40px;top:899.38px;font-size:15.5px;line-height:15.5px;color:#73BF69;letter-spacing:0.628px;">localhost</div><div class="t" style="left:1699.55px;top:899.38px;font-size:15.5px;line-height:15.5px;color:#73BF69;">D:</div><div class="t" style="left:1820.85px;top:899.38px;font-size:15.5px;line-height:15.5px;color:#EB9A3C;letter-spacing:1.459px;">97</div><div style="position:absolute;left:1646.30px;top:809.00px;width:1.00px;height:117.60px;background:#2b2e33;"></div><div style="position:absolute;left:1768.40px;top:809.00px;width:1.00px;height:117.60px;background:#2b2e33;"></div><svg style="position:absolute;left:0;top:0;" width="1920" height="1068"><defs><linearGradient id="cpug" x1="0" y1="799.5" x2="0" y2="1012.5" gradientUnits="userSpaceOnUse"><stop offset="0" stop-color="#73BF69" stop-opacity="0.2"/><stop offset="1" stop-color="#73BF69" stop-opacity="0.02"/></linearGradient></defs><line x1="528.6" y1="1013.30" x2="1016.5" y2="1013.30" stroke="rgba(204,204,220,0.12)" stroke-width="1"/><line x1="528.6" y1="952.45" x2="1016.5" y2="952.45" stroke="rgba(204,204,220,0.12)" stroke-width="1"/><line x1="528.6" y1="891.60" x2="1016.5" y2="891.60" stroke="rgba(204,204,220,0.12)" stroke-width="1"/><line x1="528.6" y1="830.75" x2="1016.5" y2="830.75" stroke="rgba(204,204,220,0.12)" stroke-width="1"/><line x1="528.60" y1="787.5" x2="528.60" y2="1029" stroke="rgba(204,204,220,0.12)" stroke-width="1"/><line x1="617.05" y1="787.5" x2="617.05" y2="1029" stroke="rgba(204,204,220,0.12)" stroke-width="1"/><line x1="705.50" y1="787.5" x2="705.50" y2="1029" stroke="rgba(204,204,220,0.12)" stroke-width="1"/><line x1="793.95" y1="787.5" x2="793.95" y2="1029" stroke="rgba(204,204,220,0.12)" stroke-width="1"/><line x1="882.40" y1="787.5" x2="882.40" y2="1029" stroke="rgba(204,204,220,0.12)" stroke-width="1"/><line x1="970.85" y1="787.5" x2="970.85" y2="1029" stroke="rgba(204,204,220,0.12)" stroke-width="1"/><path d="M528.20,817.78 C537.83,844.15 547.47,896.88 557.10,896.88 C576.90,896.88 596.70,866.46 616.50,866.46 C631.17,866.46 645.83,872.54 660.50,872.54 C670.43,872.54 680.37,872.54 690.30,872.54 C704.97,872.54 719.63,866.60 734.30,860.38 C754.00,852.02 773.70,799.52 793.40,799.52 C808.40,799.52 823.40,872.54 838.40,872.54 C853.07,872.54 867.73,872.54 882.40,872.54 C897.07,872.54 911.73,896.88 926.40,896.88 C941.37,896.88 956.33,860.38 971.30,860.38 C985.97,860.38 1000.63,864.43 1015.30,866.46 L1015.30,1012.50 L528.20,1012.50 Z" fill="url(#cpug)"/><path d="M528.20,817.78 C537.83,844.15 547.47,896.88 557.10,896.88 C576.90,896.88 596.70,866.46 616.50,866.46 C631.17,866.46 645.83,872.54 660.50,872.54 C670.43,872.54 680.37,872.54 690.30,872.54 C704.97,872.54 719.63,866.60 734.30,860.38 C754.00,852.02 773.70,799.52 793.40,799.52 C808.40,799.52 823.40,872.54 838.40,872.54 C853.07,872.54 867.73,872.54 882.40,872.54 C897.07,872.54 911.73,896.88 926.40,896.88 C941.37,896.88 956.33,860.38 971.30,860.38 C985.97,860.38 1000.63,864.43 1015.30,866.46" fill="none" stroke="#73BF69" stroke-width="1.5"/><circle cx="528.20" cy="817.78" r="2.9" fill="#73BF69"/><circle cx="557.10" cy="896.88" r="2.9" fill="#73BF69"/><circle cx="616.50" cy="866.46" r="2.9" fill="#73BF69"/><circle cx="660.50" cy="872.54" r="2.9" fill="#73BF69"/><circle cx="690.30" cy="872.54" r="2.9" fill="#73BF69"/><circle cx="734.30" cy="860.38" r="2.9" fill="#73BF69"/><circle cx="793.40" cy="799.52" r="2.9" fill="#73BF69"/><circle cx="838.40" cy="872.54" r="2.9" fill="#73BF69"/><circle cx="882.40" cy="872.54" r="2.9" fill="#73BF69"/><circle cx="926.40" cy="896.88" r="2.9" fill="#73BF69"/><circle cx="971.30" cy="860.38" r="2.9" fill="#73BF69"/><circle cx="1015.30" cy="866.46" r="2.9" fill="#73BF69"/></svg><div class="t" style="left:513.73px;top:1005.72px;font-size:13.8px;line-height:13.8px;color:#c8c8d4;">0</div><div class="t" style="left:506.05px;top:944.87px;font-size:13.8px;line-height:13.8px;color:#c8c8d4;">10</div><div class="t" style="left:506.05px;top:884.02px;font-size:13.8px;line-height:13.8px;color:#c8c8d4;">20</div><div class="t" style="left:506.05px;top:823.17px;font-size:13.8px;line-height:13.8px;color:#c8c8d4;">30</div><div class="t" style="left:511.30px;top:1034.52px;font-size:13.8px;line-height:13.8px;color:#c8c8d4;letter-spacing:0.019px;">13:00</div><div class="t" style="left:599.75px;top:1034.52px;font-size:13.8px;line-height:13.8px;color:#c8c8d4;letter-spacing:0.019px;">13:10</div><div class="t" style="left:688.20px;top:1034.52px;font-size:13.8px;line-height:13.8px;color:#c8c8d4;letter-spacing:0.019px;">13:20</div><div class="t" style="left:776.65px;top:1034.52px;font-size:13.8px;line-height:13.8px;color:#c8c8d4;letter-spacing:0.019px;">13:30</div><div class="t" style="left:865.10px;top:1034.52px;font-size:13.8px;line-height:13.8px;color:#c8c8d4;letter-spacing:0.019px;">13:40</div><div class="t" style="left:953.55px;top:1034.52px;font-size:13.8px;line-height:13.8px;color:#c8c8d4;letter-spacing:0.019px;">13:50</div><svg style="position:absolute;left:0;top:0;" width="1920" height="1068"><defs><linearGradient id="memg" x1="0" y1="788" x2="0" y2="1014.4" gradientUnits="userSpaceOnUse"><stop offset="0" stop-color="#73BF69" stop-opacity="1"/><stop offset="1" stop-color="#73BF69" stop-opacity="0"/></linearGradient></defs><line x1="1076.5" y1="1014.40" x2="1422.8" y2="1014.40" stroke="rgba(204,204,220,0.12)" stroke-width="1"/><line x1="1076.5" y1="966.42" x2="1422.8" y2="966.42" stroke="rgba(204,204,220,0.12)" stroke-width="1"/><line x1="1076.5" y1="918.44" x2="1422.8" y2="918.44" stroke="rgba(204,204,220,0.12)" stroke-width="1"/><line x1="1076.5" y1="870.46" x2="1422.8" y2="870.46" stroke="rgba(204,204,220,0.12)" stroke-width="1"/><line x1="1076.5" y1="822.48" x2="1422.8" y2="822.48" stroke="rgba(204,204,220,0.12)" stroke-width="1"/><rect x="1079.5" y="788" width="17.70" height="226.40" fill="url(#memg)"/><rect x="1242.3" y="790.8" width="18.00" height="223.60" fill="url(#memg)"/><rect x="1404.5" y="803" width="17.60" height="211.40" fill="url(#memg)"/></svg><div class="t" style="left:1061.63px;top:1007.62px;font-size:13.8px;line-height:13.8px;color:#c8c8d4;">0</div><div class="t" style="left:1053.95px;top:959.64px;font-size:13.8px;line-height:13.8px;color:#c8c8d4;">20</div><div class="t" style="left:1053.95px;top:911.66px;font-size:13.8px;line-height:13.8px;color:#c8c8d4;">40</div><div class="t" style="left:1053.95px;top:863.68px;font-size:13.8px;line-height:13.8px;color:#c8c8d4;">60</div><div class="t" style="left:1053.95px;top:815.70px;font-size:13.8px;line-height:13.8px;color:#c8c8d4;">80</div><div class="t" style="left:1071.25px;top:1030.32px;font-size:13.8px;line-height:13.8px;color:#c8c8d4;letter-spacing:0.244px;">09:47</div><div class="t" style="left:1233.25px;top:1030.32px;font-size:13.8px;line-height:13.8px;color:#c8c8d4;letter-spacing:0.244px;">10:03</div><div class="t" style="left:1395.25px;top:1030.32px;font-size:13.8px;line-height:13.8px;color:#c8c8d4;letter-spacing:0.244px;">10:18</div><div style="position:absolute;left:1436.60px;top:786.20px;width:15.40px;height:4.00px;background:#73BF69;border-radius:2px;"></div><div class="t" style="left:1460.70px;top:781.72px;font-size:13.8px;line-height:13.8px;color:#c8c8d4;letter-spacing:-0.477px;">VAL</div>
</body></html>
